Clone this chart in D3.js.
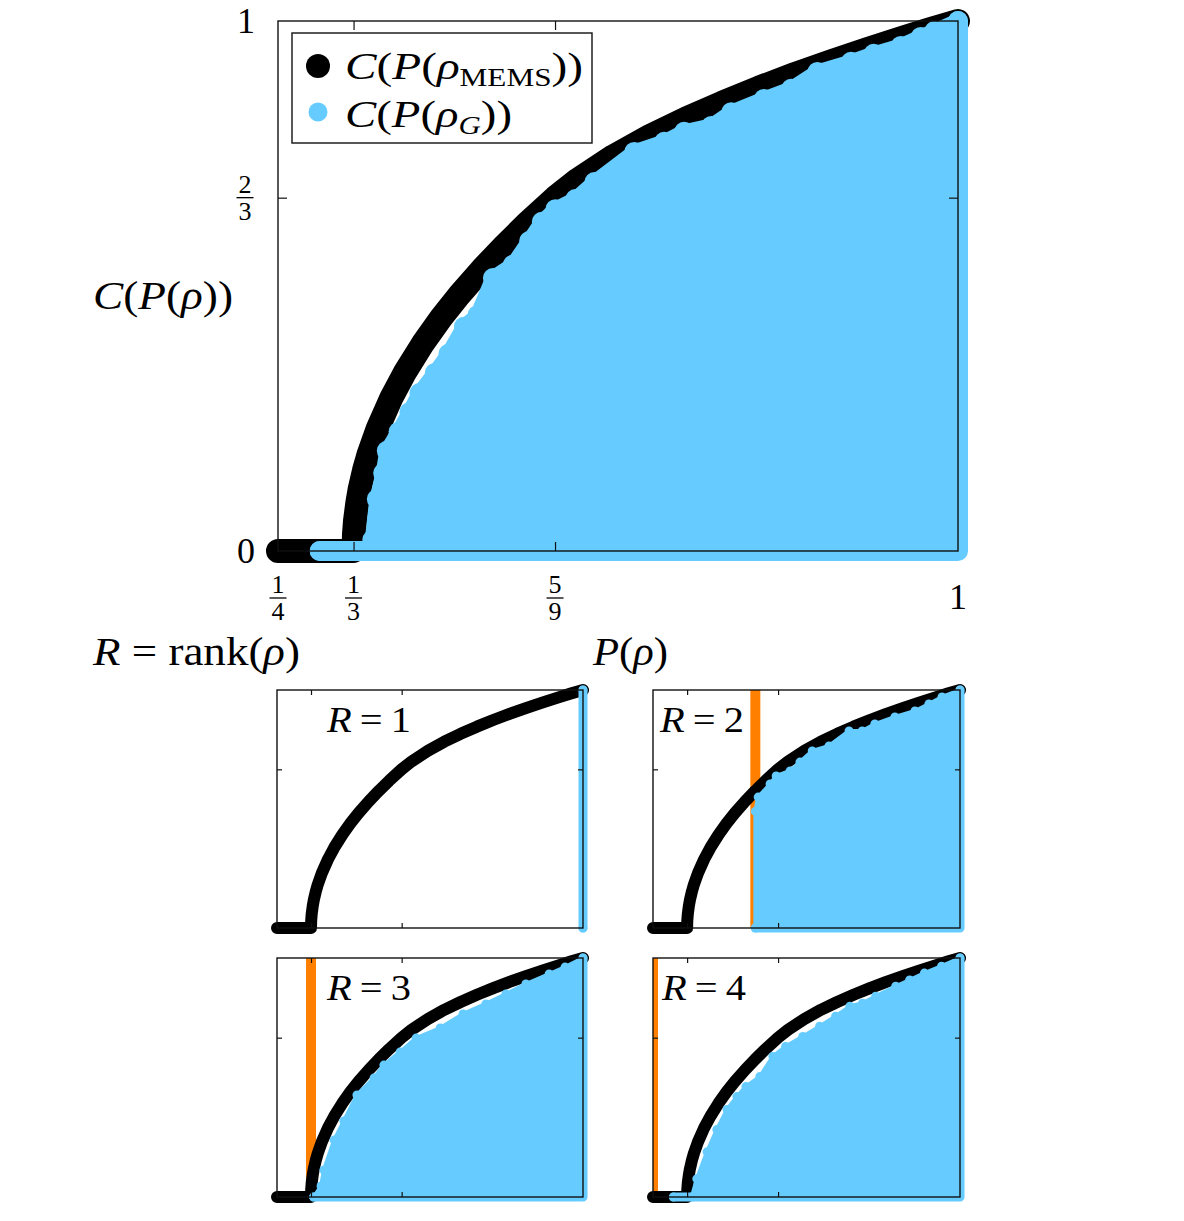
<!DOCTYPE html>
<html>
<head>
<meta charset="utf-8">
<script src="https://cdn.jsdelivr.net/npm/d3@7"></script>
<style>
  body { margin: 0; background: #fff; }
  svg text { font-family: "Liberation Serif", "DejaVu Serif", serif; fill: #000; }
</style>
</head>
<body>
<svg id="chart" width="1184" height="1221"></svg>
<script>
// maximally entangled mixed states: purity P vs concurrence C
const memsP = [0.25, 0.2917, 0.3333, 0.3338, 0.335, 0.3375, 0.34, 0.345, 0.35, 0.36, 0.375, 0.39, 0.41, 0.43, 0.45, 0.475, 0.5, 0.525, 0.5556, 0.58, 0.62, 0.66, 0.70, 0.74, 0.78, 0.82, 0.86, 0.90, 0.94, 0.97, 1.0];
const memsC = [0, 0, 0, 0.031, 0.058, 0.091, 0.116, 0.153, 0.183, 0.231, 0.289, 0.337, 0.392, 0.440, 0.483, 0.532, 0.577, 0.619, 0.667, 0.700, 0.745, 0.783, 0.816, 0.846, 0.874, 0.900, 0.924, 0.947, 0.969, 0.985, 1.0];

// upper edge of the random-state cloud rho_G, all ranks
const gAllP = [0.296, 0.350, 0.354, 0.359, 0.366, 0.370, 0.383, 0.395, 0.406, 0.423, 0.438, 0.455, 0.470, 0.487, 0.509, 0.527, 0.541, 0.556, 0.578, 0.599, 0.643, 0.676, 0.698, 0.728, 0.750, 0.786, 0.816, 0.845, 0.882, 0.907, 0.937, 0.959, 0.974, 1.0];
const gAllC = [0, 0, 0.021, 0.098, 0.147, 0.189, 0.225, 0.262, 0.298, 0.336, 0.372, 0.423, 0.445, 0.515, 0.540, 0.585, 0.621, 0.645, 0.664, 0.696, 0.753, 0.772, 0.791, 0.802, 0.828, 0.853, 0.872, 0.904, 0.923, 0.938, 0.953, 0.970, 0.981, 1.0];

// per rank R = 1..4
const gR1P = [1.0, 1.0];
const gR1C = [0, 1.0];
const gR2P = [0.5, 0.5, 0.507, 0.536, 0.551, 0.585, 0.609, 0.639, 0.680, 0.729, 0.761, 0.792, 0.841, 0.890, 0.924, 0.956, 1.0];
const gR2C = [0, 0.49, 0.55, 0.605, 0.639, 0.660, 0.697, 0.744, 0.765, 0.828, 0.828, 0.857, 0.887, 0.912, 0.941, 0.971, 1.0];
const gR3P = [0.340, 0.358, 0.365, 0.390, 0.414, 0.446, 0.488, 0.512, 0.552, 0.591, 0.650, 0.706, 0.762, 0.811, 0.860, 0.917, 0.956, 1.0];
const gR3C = [0, 0.046, 0.113, 0.238, 0.318, 0.427, 0.498, 0.552, 0.607, 0.665, 0.707, 0.766, 0.808, 0.849, 0.891, 0.933, 0.962, 1.0];
const gR4P = [0.300, 0.345, 0.357, 0.382, 0.406, 0.431, 0.455, 0.477, 0.511, 0.543, 0.574, 0.616, 0.657, 0.696, 0.731, 0.762, 0.794, 0.843, 0.877, 0.913, 0.955, 1.0];
const gR4C = [0, 0, 0.076, 0.189, 0.282, 0.366, 0.420, 0.462, 0.504, 0.588, 0.630, 0.672, 0.714, 0.756, 0.798, 0.811, 0.840, 0.882, 0.908, 0.937, 0.966, 1.0];

const rankLabels = ['1', '2', '3', '4'];
const rankMinPurity = [null, 1 / 2, 1 / 3, 1 / 4];

const xTickVals = [1 / 3, 5 / 9];
const yTickVals = [2 / 3];
const xFracLabels = [[1 / 4, '1', '4'], [1 / 3, '1', '3'], [5 / 9, '5', '9']];

const black = '#000';
const blue = '#66ccff';
const orange = '#ff8000';

const svg = d3.select('#chart');

const boxes = [
  { left: 278, right: 958, top: 21, bottom: 551, rk: 12, rb: 10, tick: 9 },
  { left: 277, right: 583, top: 690, bottom: 928, rk: 6, rb: 4.5, tick: 5 },
  { left: 653, right: 960, top: 690, bottom: 928, rk: 6, rb: 4.5, tick: 5 },
  { left: 277, right: 583, top: 958, bottom: 1197, rk: 6, rb: 4.5, tick: 5 },
  { left: 653, right: 960, top: 958, bottom: 1197, rk: 6, rb: 4.5, tick: 5 }
];
const clouds = [[gAllP, gAllC], [gR1P, gR1C], [gR2P, gR2C], [gR3P, gR3C], [gR4P, gR4C]];

// LaTeX-ish label: italic symbols, roman words, optional subscript
function mathText(g, x, y, size, parts, width) {
  let t = g.append('text').attr('x', x).attr('y', y).attr('font-size', size);
  let shifted = false;
  parts.forEach(([s, st]) => {
    let sp = t.append('tspan').text(s);
    if (st.includes('i')) sp.attr('font-style', 'italic');
    if (st.includes('s')) {
      sp.attr('font-size', size * 0.66);
      if (!shifted) { sp.attr('dy', size * 0.18); shifted = true; }
    } else if (shifted) {
      sp.attr('dy', -size * 0.18); shifted = false;
    }
  });
  if (width) t.attr('textLength', width).attr('lengthAdjust', 'spacingAndGlyphs');
  return t;
}

function drawPanel(i) {
  let b = boxes[i];
  let [gp, gc] = clouds[i];
  let x = d3.scaleLinear().domain([0.25, 1]).range([b.left, b.right]);
  let y = d3.scaleLinear().domain([0, 1]).range([b.bottom, b.top]);
  let g = svg.append('g');

  let clipId = 'clip' + i;
  svg.append('clipPath').attr('id', clipId)
    .append('rect')
    .attr('x', b.left).attr('y', b.top)
    .attr('width', b.right - b.left).attr('height', b.bottom - b.top);

  // purity bound for rank R
  if (i > 0 && rankMinPurity[i - 1] != null) {
    let p = rankMinPurity[i - 1];
    g.append('line')
      .attr('clip-path', `url(#${clipId})`)
      .attr('x1', x(p)).attr('x2', x(p))
      .attr('y1', y(0)).attr('y2', y(1))
      .attr('stroke', orange).attr('stroke-width', 10);
  }

  // MEMS curve, drawn as a band of overlapping dots
  let mems = memsP.map((p, k) => [p, memsC[k]]);
  g.append('path')
    .attr('d', d3.line().x((d) => x(d[0])).y((d) => y(d[1]))(mems))
    .attr('fill', 'none')
    .attr('stroke', black)
    .attr('stroke-width', b.rk * 2)
    .attr('stroke-linecap', 'round')
    .attr('stroke-linejoin', 'round');

  // random-state cloud
  let edge = gp.map((p, k) => [p, gc[k]]);
  let poly = [...edge, [1, 0]];
  g.append('path')
    .attr('d', d3.line().x((d) => x(d[0])).y((d) => y(d[1]))(poly) + 'Z')
    .attr('fill', blue)
    .attr('stroke', blue)
    .attr('stroke-width', Math.max(b.rb * 2 - 5, 2))
    .attr('stroke-linejoin', 'round');
  g.selectAll(null).data(edge).join('circle')
    .attr('cx', (d) => x(d[0]))
    .attr('cy', (d) => y(d[1]))
    .attr('r', b.rb)
    .attr('fill', blue);
  g.append('path')
    .attr('d', d3.line().x((d) => x(d[0])).y((d) => y(d[1]))([[gp[0], 0], [1, 0], [1, 1]]))
    .attr('fill', 'none')
    .attr('stroke', blue)
    .attr('stroke-width', b.rb * 2)
    .attr('stroke-linecap', 'round')
    .attr('stroke-linejoin', 'round');

  // frame and inward ticks on all four sides
  let axes = svg.append('g').attr('class', 'axes');
  let mk = (axis, tx, ty) => {
    let a = axes.append('g').attr('transform', `translate(${tx},${ty})`).call(axis);
    a.select('.domain').remove();
    a.selectAll('text').remove();
    a.selectAll('line').attr('stroke', '#111').attr('stroke-width', 1.2);
  };
  mk(d3.axisBottom(x).tickValues(xTickVals).tickSize(-b.tick), 0, b.bottom);
  mk(d3.axisTop(x).tickValues(xTickVals).tickSize(-b.tick), 0, b.top);
  mk(d3.axisLeft(y).tickValues(yTickVals).tickSize(-b.tick), b.left, 0);
  mk(d3.axisRight(y).tickValues(yTickVals).tickSize(-b.tick), b.right, 0);
  axes.append('rect')
    .attr('x', b.left).attr('y', b.top)
    .attr('width', b.right - b.left).attr('height', b.bottom - b.top)
    .attr('fill', 'none').attr('stroke', '#111').attr('stroke-width', 1.4);

  return { x, y, g };
}

function frac(x0, yBar, num, den, size) {
  let f = svg.append('g');
  f.append('text').attr('x', x0).attr('y', yBar - 5).attr('font-size', size)
    .attr('text-anchor', 'middle').text(num);
  f.append('line').attr('x1', x0 - 8.5).attr('x2', x0 + 8.5)
    .attr('y1', yBar).attr('y2', yBar).attr('stroke', '#000').attr('stroke-width', 1.3);
  f.append('text').attr('x', x0).attr('y', yBar + 22).attr('font-size', size)
    .attr('text-anchor', 'middle').text(den);
}

let main = drawPanel(0);
let labelX = [327, 660, 327, 662];
for (let i = 1; i <= 4; i++) {
  drawPanel(i);
  let b = boxes[i];
  mathText(svg, labelX[i - 1], b.top + 42, 35,
    [['R', 'i'], ['\u2009=\u2009', ''], [rankLabels[i - 1], '']], 84);
}

// main axis labels
xFracLabels.forEach(([v, n, d]) => frac(main.x(v), 598, n, d, 26));
svg.append('text').attr('x', main.x(1)).attr('y', 609).attr('font-size', 36)
  .attr('text-anchor', 'middle').text('1');
svg.append('text').attr('x', 246).attr('y', main.y(0) + 12).attr('font-size', 36)
  .attr('text-anchor', 'middle').text('0');
svg.append('text').attr('x', 246).attr('y', main.y(1) + 12).attr('font-size', 36)
  .attr('text-anchor', 'middle').text('1');
frac(245, main.y(2 / 3), '2', '3', 26);

mathText(svg, 93, 309, 40, [['C', 'i'], ['(', ''], ['P', 'i'], ['(', ''], ['ρ', 'i'], ['))', '']], 140);
mathText(svg, 593, 665, 40, [['P', 'i'], ['(', ''], ['ρ', 'i'], [')', '']], 75);
mathText(svg, 93, 665, 40, [['R', 'i'], [' = rank(', ''], ['ρ', 'i'], [')', '']], 207);

// legend
let leg = svg.append('g');
leg.append('rect').attr('x', 292).attr('y', 33).attr('width', 300).attr('height', 110)
  .attr('fill', '#fff').attr('stroke', '#111').attr('stroke-width', 1.4);
leg.append('circle').attr('cx', 318).attr('cy', 66).attr('r', 12).attr('fill', black);
leg.append('circle').attr('cx', 318).attr('cy', 112).attr('r', 9.5).attr('fill', blue);
mathText(leg, 345, 79, 38, [['C', 'i'], ['(', ''], ['P', 'i'], ['(', ''], ['ρ', 'i'], ['MEMS', 's'], ['))', '']], 238);
mathText(leg, 345, 127, 38, [['C', 'i'], ['(', ''], ['P', 'i'], ['(', ''], ['ρ', 'i'], ['G', 'is'], ['))', '']], 167);
</script>
</body>
</html>
